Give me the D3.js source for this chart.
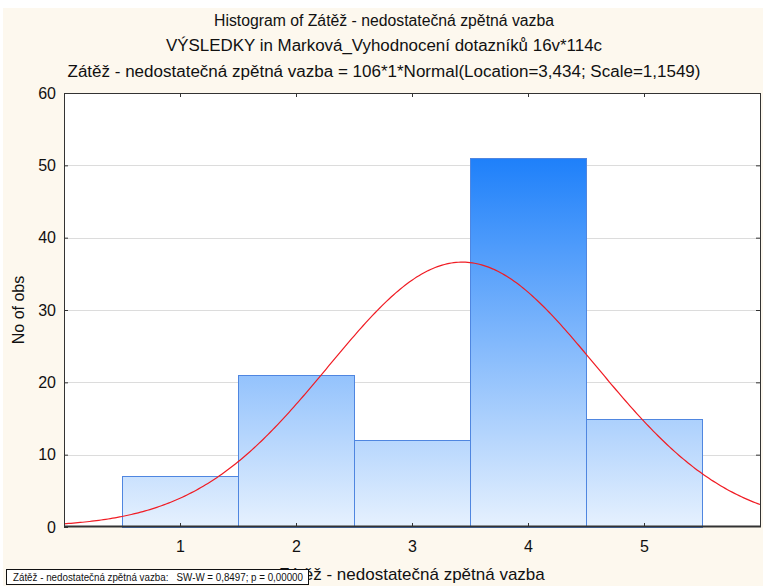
<!DOCTYPE html>
<html>
<head>
<meta charset="utf-8">
<script src="https://cdn.jsdelivr.net/npm/d3@7"></script>
<style>
  body { margin: 0; background: #fff; }
  svg { display: block; }
</style>
</head>
<body>
<div id="chart"></div>
<script>
// data
const binCenters = [1, 2, 3, 4, 5];
const counts = [7, 21, 12, 51, 15];
const xTicks = [1, 2, 3, 4, 5];
const yTicks = [0, 10, 20, 30, 40, 50, 60];
const titleLines = [
    "Histogram of Zátěž - nedostatečná zpětná vazba",
    "VÝSLEDKY in Marková_Vyhodnocení dotazníků 16v*114c",
    "Zátěž - nedostatečná zpětná vazba = 106*1*Normal(Location=3,434; Scale=1,1549)"
];
const fitN = 106, fitLoc = 3.434, fitScale = 1.1549;
const xTitle = "Zátěž - nedostatečná zpětná vazba";
const yTitle = "No of obs";
const swText = "Zátěž - nedostatečná zpětná vazba:   SW-W = 0,8497; p = 0,00000";

const W = 763, H = 586;
const plot = { left: 64, top: 93, right: 761, bottom: 527 };

const svg = d3.select('#chart').append('svg')
    .attr('width', W).attr('height', H);

// cream background
svg.append('rect').attr('x', 3).attr('y', 8).attr('width', W - 3).attr('height', H - 8)
    .attr('fill', '#fdf8ee');

const x = d3.scaleLinear().domain([0, 6]).range([plot.left, plot.right - 1]);
const y = d3.scaleLinear().domain([0, 60]).range([plot.bottom, plot.top]);

// gradient for bars (absolute y)
const defs = svg.append('defs');
const grad = defs.append('linearGradient').attr('id', 'barGrad')
    .attr('gradientUnits', 'userSpaceOnUse')
    .attr('x1', 0).attr('x2', 0)
    .attr('y1', y(51)).attr('y2', y(0));
grad.append('stop').attr('offset', 0).attr('stop-color', '#1e80fa');
grad.append('stop').attr('offset', 1).attr('stop-color', '#e6f1fe');

defs.append('clipPath').attr('id', 'plotClip').append('rect')
    .attr('x', plot.left).attr('y', plot.top)
    .attr('width', plot.right - plot.left).attr('height', plot.bottom - plot.top);

// plot area
svg.append('rect')
    .attr('x', plot.left).attr('y', plot.top)
    .attr('width', plot.right - plot.left).attr('height', plot.bottom - plot.top)
    .attr('fill', '#fff');

// gridlines
svg.append('g').selectAll('line')
    .data(yTicks.filter(d => d > 0 && d < 60))
    .enter().append('line')
    .attr('x1', plot.left).attr('x2', plot.right)
    .attr('y1', d => Math.round(y(d)) + 0.5).attr('y2', d => Math.round(y(d)) + 0.5)
    .attr('stroke', '#dcdcdc').attr('stroke-width', 1);

// bars
svg.append('g').selectAll('rect')
    .data(binCenters)
    .enter().append('rect')
    .attr('x', (d, i) => Math.round(x(d - 0.5)) + 0.5)
    .attr('y', (d, i) => Math.round(y(counts[i])) + 0.5)
    .attr('width', d => Math.round(x(d + 0.5)) - Math.round(x(d - 0.5)))
    .attr('height', (d, i) => Math.round(y(0)) - Math.round(y(counts[i])))
    .attr('fill', 'url(#barGrad)')
    .attr('stroke', '#4f86e0')
    .attr('stroke-width', 1);

// normal fit curve
const pdf = v => fitN * 1 * Math.exp(-0.5 * Math.pow((v - fitLoc) / fitScale, 2)) / (fitScale * Math.sqrt(2 * Math.PI));
const curveX = d3.range(0, 6.01, 0.02);
svg.append('path')
    .datum(curveX)
    .attr('clip-path', 'url(#plotClip)')
    .attr('d', d3.line().x(d => x(d)).y(d => y(pdf(d))))
    .attr('fill', 'none')
    .attr('stroke', '#f01c24')
    .attr('stroke-width', 1.2);

// frame
svg.append('rect')
    .attr('x', plot.left + 0.5).attr('y', plot.top + 0.5)
    .attr('width', plot.right - plot.left - 1).attr('height', plot.bottom - plot.top - 1)
    .attr('fill', 'none').attr('stroke', '#333').attr('stroke-width', 1);
svg.append('line')
    .attr('x1', plot.left).attr('x2', plot.right)
    .attr('y1', plot.bottom - 0.5).attr('y2', plot.bottom - 0.5)
    .attr('stroke', '#333').attr('stroke-width', 2);

// axes
const font = 'Liberation Sans, Arial, sans-serif';
const xAxis = svg.append('g')
    .attr('transform', `translate(0,${plot.bottom})`)
    .call(d3.axisBottom(x).tickValues(xTicks).tickFormat(d3.format('d'))
        .tickSizeInner(-4).tickSizeOuter(0).tickPadding(14));
const yAxis = svg.append('g')
    .attr('transform', `translate(${plot.left},0)`)
    .call(d3.axisLeft(y).tickValues(yTicks).tickSizeInner(-4).tickSizeOuter(0).tickPadding(8));
const topAxis = svg.append('g')
    .attr('transform', `translate(0,${plot.top})`)
    .call(d3.axisTop(x).tickValues(xTicks).tickSizeInner(-4).tickSizeOuter(0).tickFormat(''));
const rightAxis = svg.append('g')
    .attr('transform', `translate(${plot.right - 1},0)`)
    .call(d3.axisRight(y).tickValues(yTicks.filter(d => d > 0 && d < 60)).tickSizeInner(-4).tickSizeOuter(0).tickFormat(''));
[xAxis, yAxis, topAxis, rightAxis].forEach(g => {
    g.select('.domain').remove();
    g.selectAll('line').attr('stroke', '#333');
    g.selectAll('text').attr('font-family', font).attr('font-size', 16).attr('fill', '#111');
});

// titles
const narrow = '"Liberation Sans Narrow", "Arial Narrow", "Liberation Sans", sans-serif';
const titleY = [26, 51, 77];
const titleW = [340, 436, 633];
svg.append('g').selectAll('text')
    .data(titleLines)
    .enter().append('text')
    .attr('x', 384).attr('y', (d, i) => titleY[i])
    .attr('text-anchor', 'middle')
    .attr('font-family', narrow).attr('font-size', 16)
    .attr('textLength', (d, i) => titleW[i]).attr('lengthAdjust', 'spacingAndGlyphs')
    .attr('fill', '#111')
    .text(d => d);

svg.append('text')
    .attr('x', 412).attr('y', 580)
    .attr('text-anchor', 'middle')
    .attr('font-family', font).attr('font-size', 17).attr('fill', '#111')
    .text(xTitle);

svg.append('text')
    .attr('transform', 'translate(24,310) rotate(-90)')
    .attr('text-anchor', 'middle')
    .attr('font-family', font).attr('font-size', 16).attr('fill', '#111')
    .text(yTitle);

// SW-W box
const sw = svg.append('g');
sw.append('rect').attr('x', 6.5).attr('y', 569.5).attr('width', 302).attr('height', 15)
    .attr('fill', '#fff').attr('stroke', '#111').attr('stroke-width', 1);
sw.append('text').attr('x', 13).attr('y', 581)
    .attr('font-family', font).attr('font-size', 10).attr('fill', '#111')
    .attr('textLength', 290).attr('lengthAdjust', 'spacingAndGlyphs')
    .attr('xml:space', 'preserve').style('white-space', 'pre')
    .text(swText);
</script>
</body>
</html>
